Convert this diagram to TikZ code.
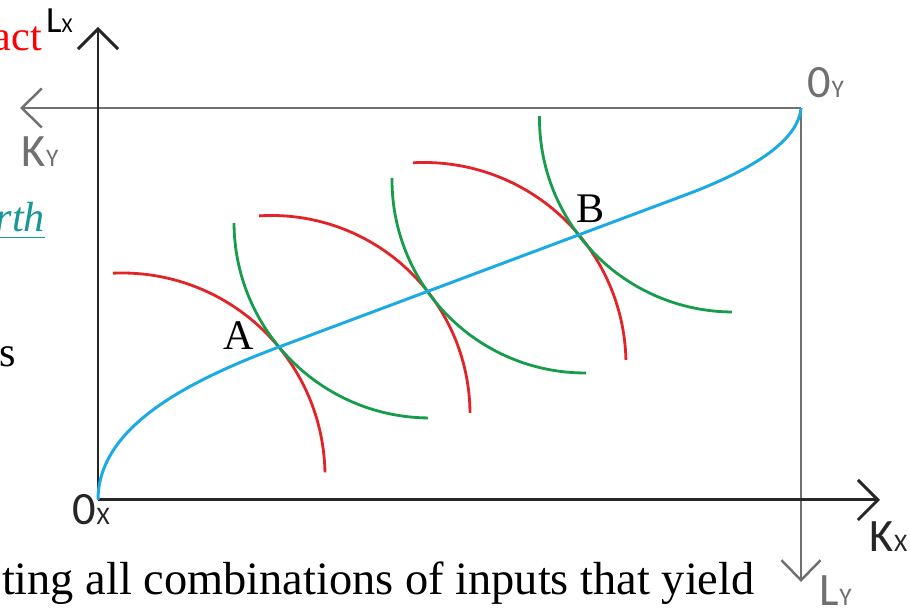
\documentclass[tikz,border=0pt]{standalone}
\usepackage{fontspec}
\setmainfont{Liberation Serif}
\newfontfamily\axisfont{Carlito}
\usetikzlibrary{arrows.meta}

\definecolor{isored}{RGB}{226,36,40}
\definecolor{isogreen}{RGB}{22,156,74}
\definecolor{curveblue}{RGB}{28,170,226}
\definecolor{axisgray}{RGB}{112,112,112}
\definecolor{linkteal}{RGB}{22,152,152}

\newcommand{\axbig}{\axisfont\fontsize{13.2}{14}\selectfont}
\newcommand{\axsub}{\fontsize{7.2}{8}\selectfont}
\newcommand{\axsmall}{\axisfont\fontsize{10.5}{11}\selectfont}
\newcommand{\axtiny}{\fontsize{6}{6.5}\selectfont}

\begin{document}
\begin{tikzpicture}[
    x=0.1mm,
    y=0.1mm,
    every node/.style={
        inner sep=0pt,
        outer sep=0pt,
    },
    axisX/.style={draw=black!85, line width=0.85pt, -{Straight Barb[length=2mm,width=4mm]}},
    axisY/.style={draw=axisgray, line width=0.7pt, -{Straight Barb[length=2mm,width=3.9mm]}},
    isoquantX/.style={draw=isored, line width=0.8pt},
    isoquantY/.style={draw=isogreen, line width=0.8pt},
    contractcurve/.style={draw=curveblue, line width=0.85pt},
    axlabel/.style={anchor=base west, font=\axbig},
    pointlabel/.style={font=\fontsize{12}{13}\selectfont},
    bodytext/.style={font=\fontsize{12}{13}\selectfont},
    ]
    \useasboundingbox (0,0) rectangle (910,615);

    % origins and axis ends
    \coordinate (Ox) at (98,115);
    \coordinate (Oy) at (801,507);
    \coordinate (LxEnd) at (98,588);
    \coordinate (KxEnd) at (880,115);
    \coordinate (KyEnd) at (20,507);
    \coordinate (LyEnd) at (801,33);

    % edgeworth box
    \draw[axisY] (Oy) -- (KyEnd);
    \draw[axisY] (Oy) -- (LyEnd);
    \draw[axisX] (Ox) -- (LxEnd);
    \draw[axisX] (Ox) -- (KxEnd);

    % isoquants of X
    \draw[isoquantX] (122,139) ++(92.5:2.03cm) arc[start angle=92.5, end angle=1, radius=2.03cm];
    \draw[isoquantX] (271.5,201) ++(93.6:1.985cm) arc[start angle=93.6, end angle=0.3, radius=1.985cm];
    \draw[isoquantX] (424,250.5) ++(93.1:2.02cm) arc[start angle=93.1, end angle=1.3, radius=2.02cm];

    % isoquants of Y
    \draw[isoquantY] (430,393) ++(180.3:1.96cm) arc[start angle=180.3, end angle=269.4, radius=1.96cm];
    \draw[isoquantY] (585,435) ++(179.4:1.93cm) arc[start angle=179.4, end angle=270.3, radius=1.93cm];
    \draw[isoquantY] (733,496.5) ++(179.3:1.935cm) arc[start angle=179.3, end angle=269.7, radius=1.935cm];

    % contract curve
    \draw[contractcurve] (Ox) .. controls (98,185) and (180,231) .. (279,268)
        -- (680,418) .. controls (740,440) and (798,470) .. (Oy);

    % points
    \node[pointlabel] (A) at (239,279) {A};
    \node[pointlabel] (B) at (591,406.5) {B};

    % axis labels
    \node[axlabel, font=\axsmall] (Lx) at (46,582) {L{\axtiny X}};
    \node[axlabel, text=axisgray] (Ky) at (22,448) {K{\axsub Y}};
    \node[axlabel, text=axisgray] (Oyl) at (808,517) {0{\axsub Y}};
    \node[axlabel, text=black!85] (Oxl) at (73,90) {0{\axsub X}};
    \node[axlabel, text=black!85] (Kx) at (870,63) {K{\axsub X}};
    \node[axlabel, text=axisgray] (Ly) at (820,9) {L{\axsub Y}};

    % surrounding text
    \node[bodytext, anchor=base east, text=red] (act) at (42,564) {act};
    \node[bodytext, anchor=base east, text=linkteal] (rth) at (45,383) {\underline{\itshape rth}};
    \node[bodytext, anchor=base east] (s) at (16,248) {s};
    \node[bodytext, anchor=base west, font=\fontsize{13.2}{14}\selectfont] (yield) at (2,20) {ting all combinations of inputs that yield};
\end{tikzpicture}
\end{document}
